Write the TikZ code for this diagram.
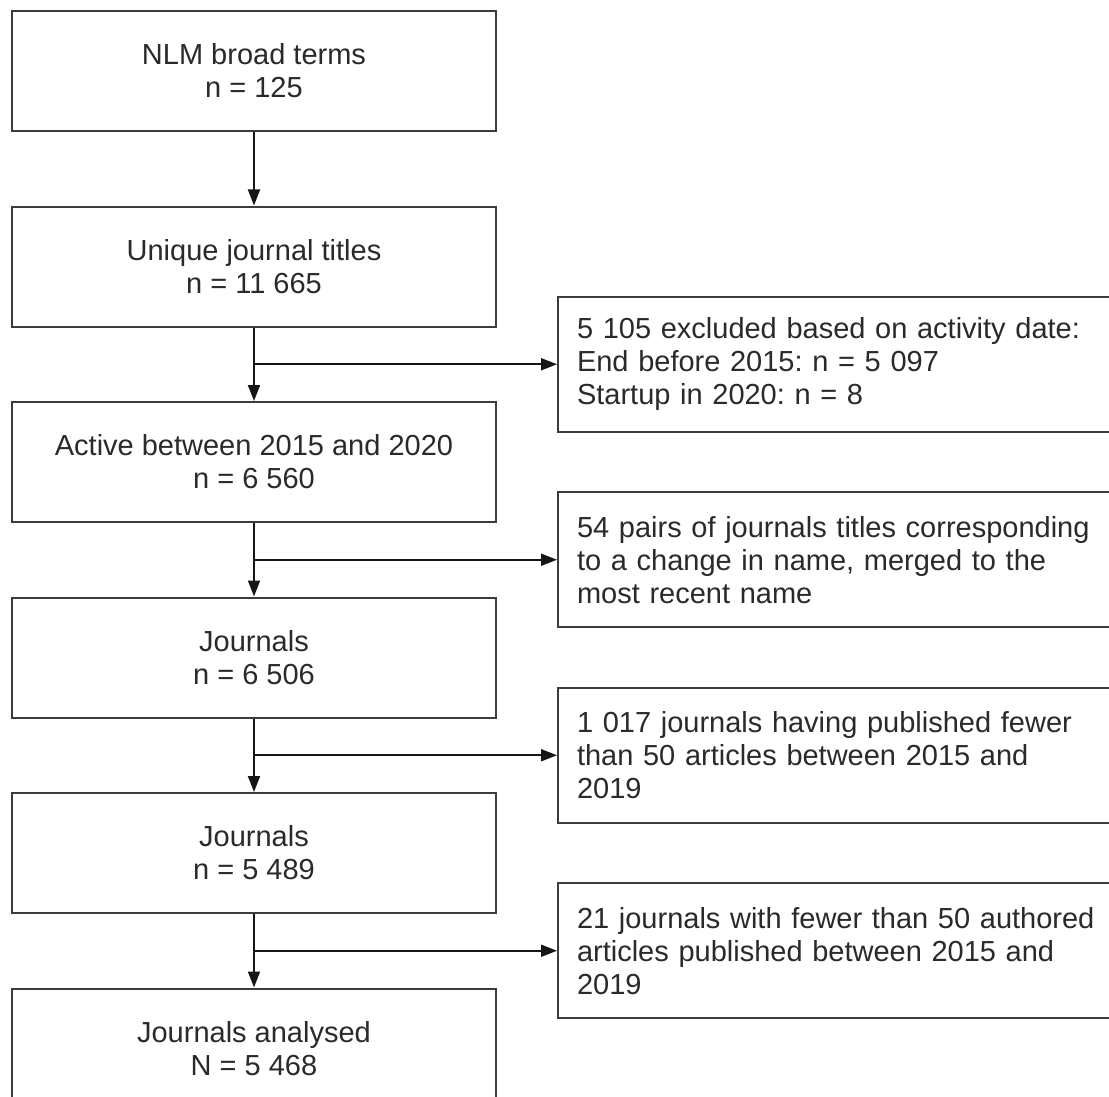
\documentclass[tikz,border=0pt]{standalone}
\usepackage{fontspec}
\setmainfont{Liberation Sans}
\frenchspacing
\usetikzlibrary{
  arrows.meta, calc, positioning
}
\definecolor{framegray}{HTML}{3C3C3C}
\definecolor{textdark}{HTML}{2A2A2A}
\definecolor{linedark}{HTML}{151515}
\tikzset{
  % Main flow boxes (left column)
  flowbox/.style={
    draw=framegray, fill=white,
    minimum width=484pt, minimum height=120pt,
    font=\fontsize{29pt}{33pt}\selectfont, text=textdark,
    align=center, inner sep=0pt, line width=2pt,
  },
  % Exclusion boxes (right column, running off the page)
  exclbox/.style={
    draw=framegray, fill=white,
    minimum height=135pt, text width=560pt,
    font=\fontsize{29pt}{33pt}\selectfont, text=textdark,
    align=left, inner xsep=19pt, inner ysep=0pt, line width=2pt,
  },
  % Arrows
  arr/.style={-{Triangle[length=16pt, width=12pt]}, line width=1.8pt, linedark},
}

\begin{document}
\begin{tikzpicture}[x=1pt, y=-1pt, node distance=73.5pt]
    \useasboundingbox (0,0) rectangle (1109,1097);
    \node[flowbox] (terms) at (254,71)
      {NLM broad terms\\n = 125};
    \node[flowbox, below=of terms] (titles)
      {Unique journal titles\\n = 11 665};
    \node[flowbox, below=of titles] (active)
      {Active between 2015 and 2020\\n = 6 560};
    \node[flowbox, below=of active] (merged)
      {Journals\\n = 6 506};
    \node[flowbox, below=of merged] (articles)
      {Journals\\n = 5 489};
    \node[flowbox, below=of articles] (final)
      {Journals analysed\\N = 5 468};
    \coordinate (split1) at ($(titles.south)!0.5!(active.north)$);
    \coordinate (split2) at ($(active.south)!0.5!(merged.north)$);
    \coordinate (split3) at ($(merged.south)!0.5!(articles.north)$);
    \coordinate (split4) at ($(articles.south)!0.5!(final.north)$);
    \node[exclbox, right=303pt of split1] (datecut)
      {5 105 excluded based on activity date:\\End before 2015: n = 5 097\\Startup in 2020: n = 8};
    \node[exclbox, right=303pt of split2] (namecut)
      {54 pairs of journals titles corresponding\\to a change in name, merged to the\\most recent name};
    \node[exclbox, right=303pt of split3] (fewcut)
      {1 017 journals having published fewer\\than 50 articles between 2015 and\\2019};
    \node[exclbox, right=303pt of split4] (authcut)
      {21 journals with fewer than 50 authored\\articles published between 2015 and\\2019};
    \draw[arr] (terms) -- (titles);
    \draw[arr] (titles) -- (active);
    \draw[arr] (active) -- (merged);
    \draw[arr] (merged) -- (articles);
    \draw[arr] (articles) -- (final);
    \draw[arr] (split1) -- (datecut);
    \draw[arr] (split2) -- (namecut);
    \draw[arr] (split3) -- (fewcut);
    \draw[arr] (split4) -- (authcut);
  \end{tikzpicture}
\end{document}
